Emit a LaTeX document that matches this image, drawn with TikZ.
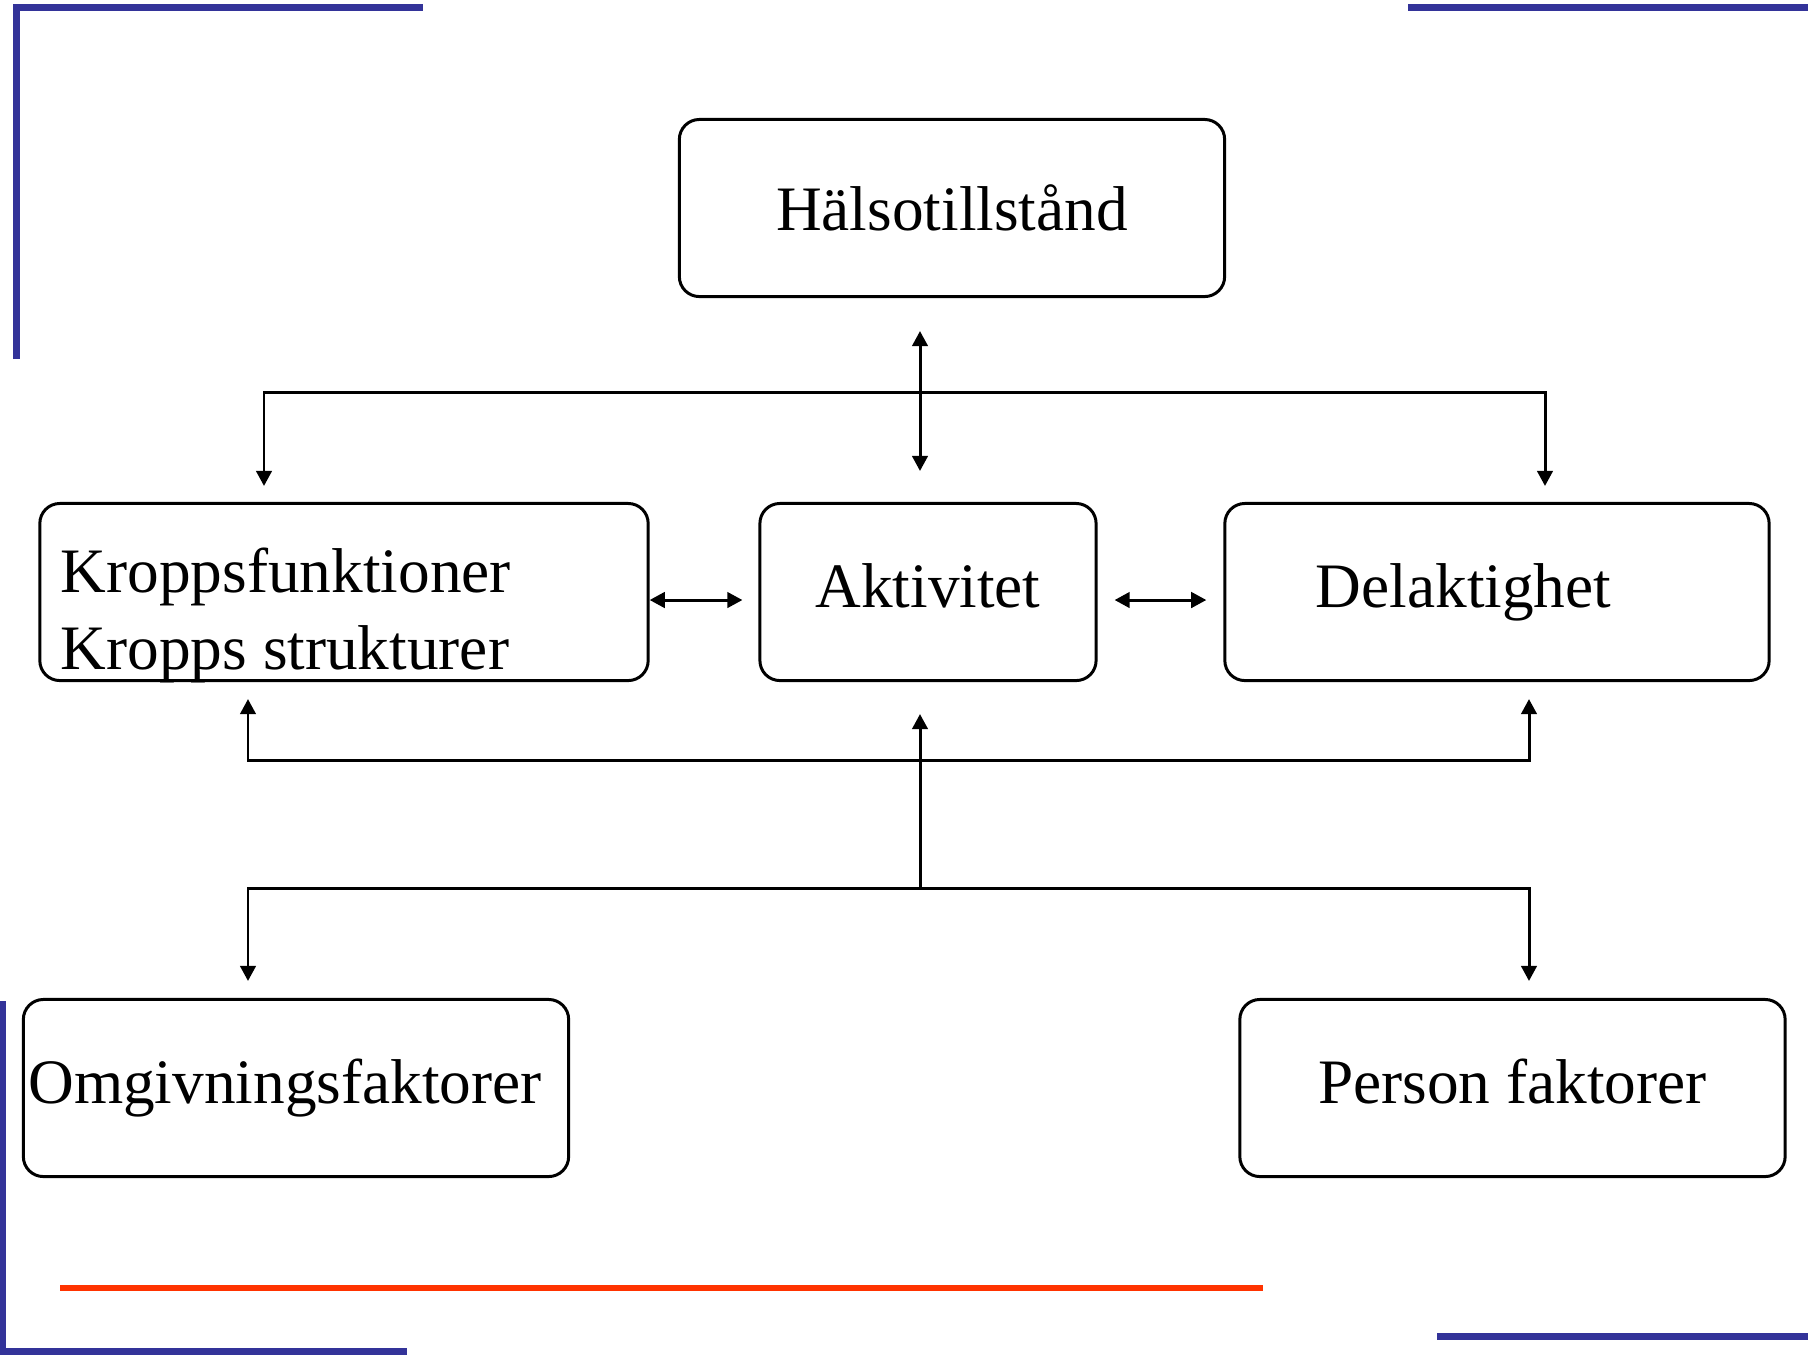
\documentclass[tikz,border=0pt]{standalone}
\usepackage{fontspec}
\setmainfont{Liberation Serif}
\usepackage{tikz}
\usetikzlibrary{arrows.meta,calc,positioning}
\definecolor{blaMork}{RGB}{51,51,153}
\definecolor{rodLinje}{RGB}{255,51,0}
\tikzstyle{ruta}=[draw, rounded corners=0.2cm, line width=0.85pt,
                  minimum height=1.77cm, inner sep=0pt,
                  font=\fontsize{18}{22}\selectfont,
                  text height=12.6pt, text depth=3.6pt]
\tikzstyle{pil} =[line width=0.85pt]
\tikzstyle{ram} =[blaMork, line width=2pt]

\begin{document}
\begin{tikzpicture}[x=0.01cm, y=-0.01cm,
    >={Triangle[length=4.3pt,width=4.4pt]}]
    \useasboundingbox (0,0) rectangle (1808,1359);

    % ramen
    \draw[ram] (16.5,359) -- (16.5,7.5) -- (423,7.5);
    \draw[ram] (1408,7.5) -- (1808,7.5);
    \draw[ram] (2.5,1001) -- (2.5,1351) -- (407,1351);
    \draw[ram] (1437,1336) -- (1808,1336);
    \draw[rodLinje, line width=1.7pt] (60,1288) -- (1263,1288);

    % rutorna
    \draw (952,208) node (halsa) [ruta, minimum width=5.45cm, text depth=-0.4pt] {Hälsotillstånd};
    \draw (344,592) node (kropp) [ruta, minimum width=6.08cm, align=flush left, text width=5.66cm,
        text height=14pt, text depth=14pt] {Kroppsfunktioner\\Kropps strukturer};
    \draw (928,592) node (aktiv) [ruta, minimum width=3.36cm] {Aktivitet};
    \draw (1497,592) node (delak) [ruta, minimum width=5.44cm, align=flush left, text width=3.62cm] {Delaktighet};
    \draw (296,1088) node (omgiv) [ruta, minimum width=5.45cm, align=flush left, text width=5.35cm] {Omgivningsfaktorer};
    \draw (1512.5,1088) node (person) [ruta, minimum width=5.45cm] {Person faktorer};

    % pilarna
    \coordinate (busUpp) at (920,392);
    \coordinate (busMitt) at (920,760);
    \coordinate (busNed) at (920,888);

    \draw[pil,<->] ($(halsa.south)+(-32,33)$) -- ($(aktiv.north)+(-8,-31)$);
    \draw[pil,->] (busUpp) -| ($(kropp.north)+(-80,-16)$);
    \draw[pil,->] (busUpp) -| ($(delak.north)+(48,-16)$);

    \draw[pil,<->] ($(kropp.east)+(0,8)$) -- ($(aktiv.west)+(-16,8)$);
    \draw[pil,<->] ($(aktiv.east)+(17,8)$) -- ($(delak.west)+(-17,8)$);

    \draw[pil,->] (busMitt) -| ($(kropp.south)+(-96,17)$);
    \draw[pil,->] (busMitt) -| ($(delak.south)+(32,17)$);
    \draw[pil,->] (busNed) -- ($(aktiv.south)+(-8,32)$);
    \draw[pil,->] (busNed) -| ($(omgiv.north)+(-48,-17)$);
    \draw[pil,->] (busNed) -| ($(person.north)+(16.5,-17)$);
\end{tikzpicture}
\end{document}
